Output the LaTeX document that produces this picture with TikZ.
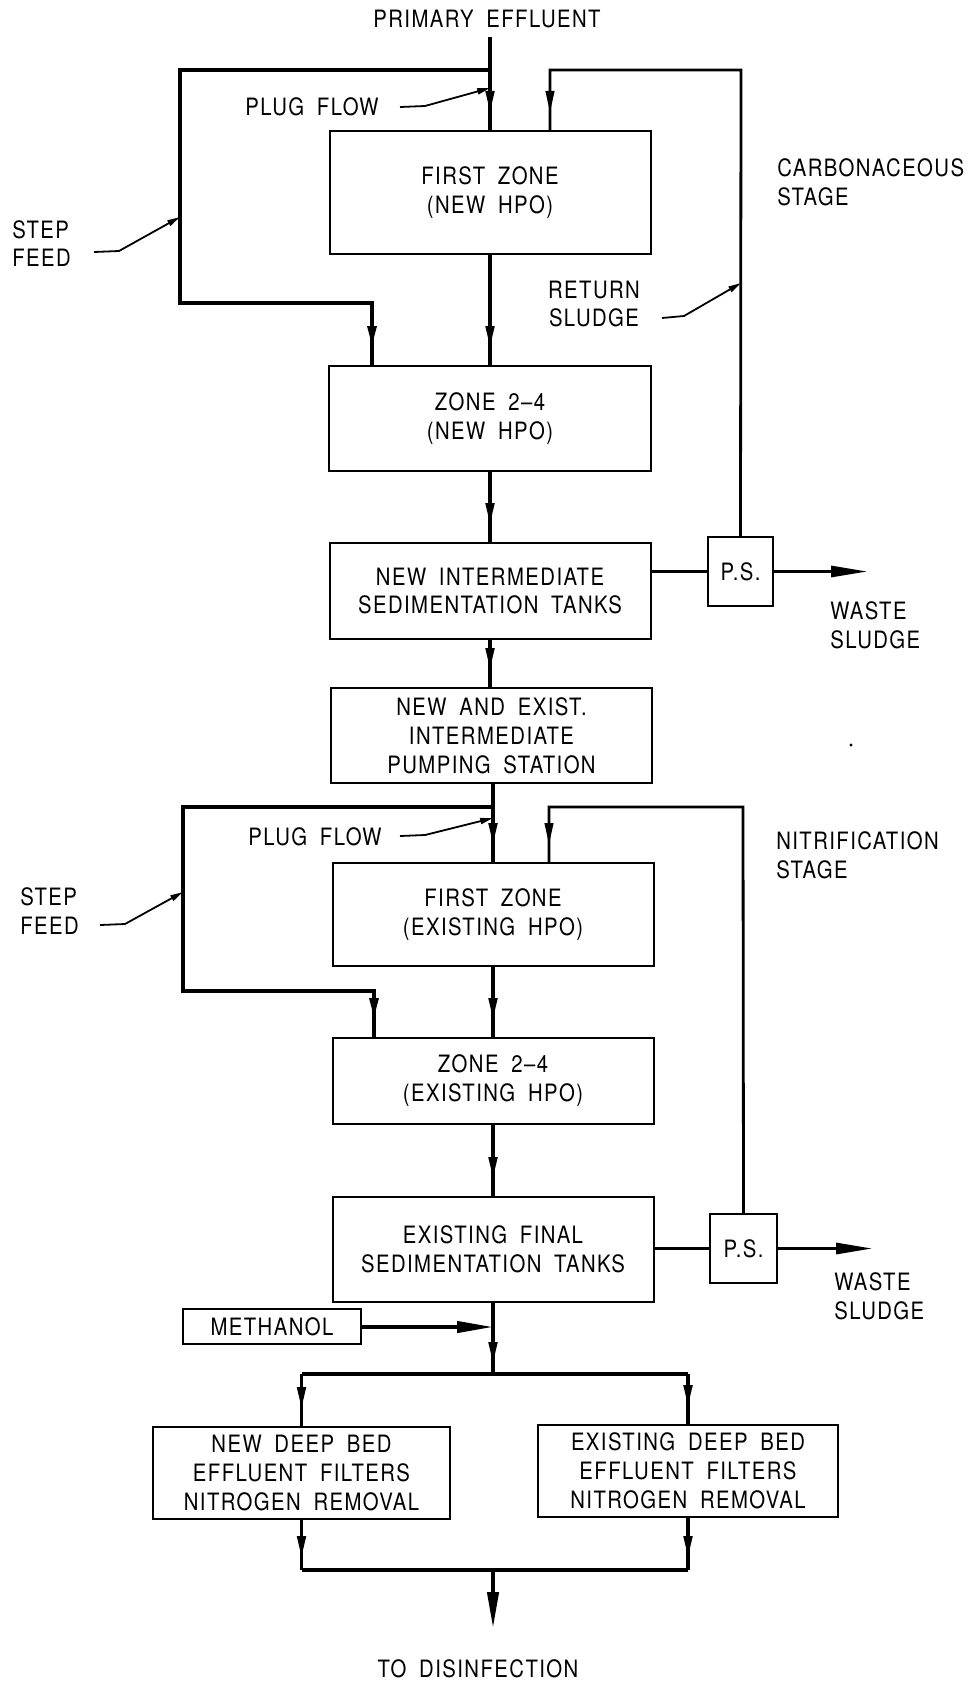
\documentclass[tikz,border=0pt]{standalone}
\usepackage{fontspec}
\setmainfont{TeX Gyre Heros}[FakeStretch=0.85,LetterSpace=6,WordSpace=1.8]
\usetikzlibrary{arrows.meta,decorations.markings}
\tikzset{
  flowtip/.tip={Triangle[length=5.5mm,width=2.1mm]},
  bigtip/.tip={Triangle[length=9mm,width=2.8mm]},
  leadtip/.tip={Triangle[length=3.2mm,width=1.5mm]},
  txt/.style={font=\fontsize{17}{20.5}\selectfont, inner sep=0pt},
  box/.style={txt, draw, line width=0.5mm, align=center},
  flow/.style={line width=0.9mm},
  feed/.style={line width=1.1mm},
  ret/.style={line width=0.7mm},
  lead/.style={line width=0.45mm, -leadtip},
  wasteline/.style={line width=0.6mm, -bigtip},
  midarr/.style={postaction={decorate},
    decoration={markings, mark=at position #1 with {\arrow{flowtip}}}},
  midarr/.default=-4.25mm
}
\begin{document}
\begin{tikzpicture}[x=0.25mm,y=-0.25mm]
\useasboundingbox (0,0) rectangle (976,1684);

% ---------- boxes ----------
\node[box, minimum width=80.25mm, minimum height=30.75mm] (b1) at (490,192.5) {FIRST ZONE\\(NEW HPO)};
\node[box, minimum width=80.5mm, minimum height=26.25mm] (b2) at (490,418.5) {ZONE 2--4\\(NEW HPO)};
\node[box, minimum width=80.25mm, minimum height=24mm] (b3) at (490,591) {NEW INTERMEDIATE\\SEDIMENTATION TANKS};
\node[box, minimum width=16.25mm, minimum height=17.25mm] (ps1) at (740.5,571.5) {P.S.};
\node[box, minimum width=80.25mm, minimum height=23.75mm] (b4) at (491.5,735.5) {NEW AND EXIST.\\INTERMEDIATE\\PUMPING STATION};
\node[box, minimum width=80.25mm, minimum height=25.75mm] (b5) at (493,914.5) {FIRST ZONE\\(EXISTING HPO)};
\node[box, minimum width=80.25mm, minimum height=21.5mm] (b6) at (493,1081) {ZONE 2--4\\(EXISTING HPO)};
\node[box, minimum width=80.25mm, minimum height=26.25mm] (b7) at (493,1249.5) {EXISTING FINAL\\SEDIMENTATION TANKS};
\node[box, minimum width=16.75mm, minimum height=17.25mm] (ps2) at (743.5,1248.5) {P.S.};
\node[box, minimum width=44.5mm, minimum height=8.75mm] (meth) at (272,1326.5) {METHANOL};
\node[box, minimum width=74.25mm, minimum height=23mm] (fN) at (301.5,1473) {NEW DEEP BED\\EFFLUENT FILTERS\\NITROGEN REMOVAL};
\node[box, minimum width=75mm, minimum height=23mm] (fE) at (688,1471) {EXISTING DEEP BED\\EFFLUENT FILTERS\\NITROGEN REMOVAL};

% ---------- labels ----------
\node[txt] (pe) at (487,19) {PRIMARY EFFLUENT};
\node[txt] (pf1) at (312,107) {PLUG FLOW};
\node[txt, anchor=west, align=left] (sf1) at (12,243.5) {STEP\\FEED};
\node[txt, anchor=west, align=left] (cs) at (777,182) {CARBONACEOUS\\STAGE};
\node[txt, align=center] (rs) at (594,304) {RETURN\\SLUDGE};
\node[txt, anchor=west, align=left] (ws1) at (830,625) {WASTE\\SLUDGE};
\node[txt, anchor=west, align=left] (ns) at (776,855) {NITRIFICATION\\STAGE};
\node[txt] (pf2) at (315,837) {PLUG FLOW};
\node[txt, anchor=west, align=left] (sf2) at (20,911) {STEP\\FEED};
\node[txt, anchor=west, align=left] (ws2) at (834,1296) {WASTE\\SLUDGE};
\node[txt] (td) at (478,1669) {TO DISINFECTION};
\fill (851,745) circle (0.4mm);

% ---------- coordinates ----------
\coordinate (in1) at (490,37);
\coordinate (j1) at (490,70);
\coordinate (sfa) at (180,70);
\coordinate (sfb) at (180,303);
\coordinate (sfc) at (372,303);
\coordinate (ra) at (741,70);
\coordinate (rb) at (550,70);
\coordinate (w1) at (867,571.5);

\coordinate (j2) at (493,807);
\coordinate (sfd) at (183,807);
\coordinate (sfe) at (183,991);
\coordinate (sff) at (374,991);
\coordinate (rc) at (743,807);
\coordinate (rd) at (549,807);
\coordinate (w2) at (872,1248.5);

\coordinate (mj) at (493,1327);
\coordinate (sp) at (493,1374);
\coordinate (spL) at (301.5,1374);
\coordinate (spR) at (688,1374);
\coordinate (cL) at (301.5,1570);
\coordinate (cR) at (688,1570);
\coordinate (cm) at (493,1570);
\coordinate (out) at (493,1628);

% ---------- carbonaceous stage ----------
\draw[flow, midarr] (in1) -- (b1.north);
\draw[feed, midarr] (j1) -- (sfa) -- (sfb) -- (sfc) -- (sfc |- b2.north);
\draw[flow, midarr] (b1.south) -- (b2.north);
\draw[flow, midarr] (b2.south) -- (b3.north);
\draw[flow] (b3.east |- ps1.west) -- (ps1.west);
\draw[wasteline] (ps1.east) -- (w1);
\draw[ret, midarr] (ps1.north) -- (ra) -- (rb) -- (rb |- b1.north);
\draw[flow, midarr] (b3.south) -- (b3.south |- b4.north);

\draw[lead] (400,107) -- (425,106) -- (490,88);
\draw[lead] (94,252) -- (119,251) -- (180,217);
\draw[lead] (662,318) -- (684,316) -- (741,283);

% ---------- nitrification stage ----------
\draw[flow, midarr] (b5.north |- b4.south) -- (b5.north);
\draw[feed, midarr] (j2) -- (sfd) -- (sfe) -- (sff) -- (sff |- b6.north);
\draw[flow, midarr] (b5.south) -- (b6.north);
\draw[flow, midarr] (b6.south) -- (b7.north);
\draw[flow] (b7.east |- ps2.west) -- (ps2.west);
\draw[wasteline] (ps2.east) -- (w2);
\draw[ret, midarr] (ps2.north) -- (rc) -- (rd) -- (rd |- b5.north);

\draw[lead] (400,836) -- (425,835) -- (493,818);
\draw[lead] (100,925) -- (125,924) -- (183,892);

% ---------- filters ----------
\draw[line width=0.9mm, -bigtip] (meth.east |- mj) -- (mj);
\draw[flow, midarr=-2.5mm] (b7.south) -- (sp);
\draw[feed] (spL) -- (spR);
\draw[flow, midarr] (spL) -- (fN.north);
\draw[flow, midarr] (spR) -- (spR |- fE.north);
\draw[flow, midarr=-3mm] (fN.south) -- (cL);
\draw[flow, midarr=-3mm] (fE.south) -- (cR);
\draw[feed] (cL) -- (cR);
\draw[flow, -bigtip] (cm) -- (out);
\end{tikzpicture}
\end{document}
